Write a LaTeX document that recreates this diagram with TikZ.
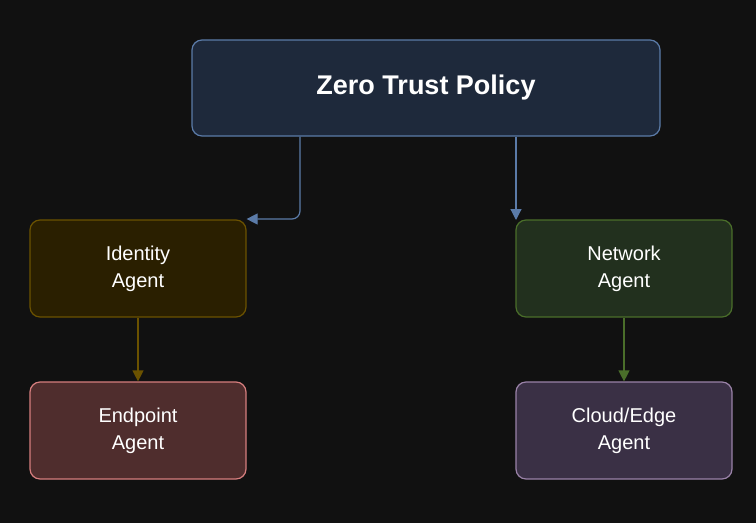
\documentclass[tikz,border=0pt]{standalone}
\usepackage{fontspec}
\setmainfont{Liberation Sans}
\usetikzlibrary{arrows.meta}
\definecolor{bgc}{HTML}{111111}
\definecolor{polfill}{HTML}{1E293B}
\definecolor{poldraw}{HTML}{5B7BA8}
\definecolor{idfill}{HTML}{2A1F00}
\definecolor{iddraw}{HTML}{6B5200}
\definecolor{netfill}{HTML}{22301E}
\definecolor{netdraw}{HTML}{4A6E2A}
\definecolor{epfill}{HTML}{4F2D2D}
\definecolor{epdraw}{HTML}{D67E7E}
\definecolor{clfill}{HTML}{3A3045}
\definecolor{cldraw}{HTML}{9A82A8}
\tikzset{
  box/.style={rounded corners=10pt, line width=1.2pt, minimum width=216pt,
    minimum height=97pt, text=white, align=center,
    font=\fontsize{20}{27}\selectfont},
  link/.style={line width=1.2pt, -{Triangle[length=11pt,width=11pt]}}
}
\begin{document}
\begin{tikzpicture}[x=1pt,y=-1pt]
\fill[bgc] (0,0) rectangle (756,523);
\useasboundingbox (0,0) rectangle (756,523);

\node[box, fill=polfill, draw=poldraw, minimum width=468pt, minimum height=96pt,
  font=\fontsize{27}{30}\selectfont\bfseries] (policy) at (426,88) {Zero Trust Policy};
\node[box, fill=idfill, draw=iddraw] (identity) at (138,268.5) {Identity\\Agent};
\node[box, fill=netfill, draw=netdraw] (network) at (624,268.5) {Network\\Agent};
\node[box, fill=epfill, draw=epdraw] (endpoint) at (138,430.5) {Endpoint\\Agent};
\node[box, fill=clfill, draw=cldraw] (cloud) at (624,430.5) {Cloud/Edge\\Agent};

\coordinate (netin) at (516,220);
\draw[link, draw=poldraw, rounded corners=8pt]
  (policy.south -| 300,0) |- (identity.east |- 0,219);
\draw[link, draw=poldraw] (policy.south -| netin) -- (netin);
\draw[link, draw=iddraw] (identity) -- (endpoint);
\draw[link, draw=netdraw] (network) -- (cloud);
\end{tikzpicture}
\end{document}
